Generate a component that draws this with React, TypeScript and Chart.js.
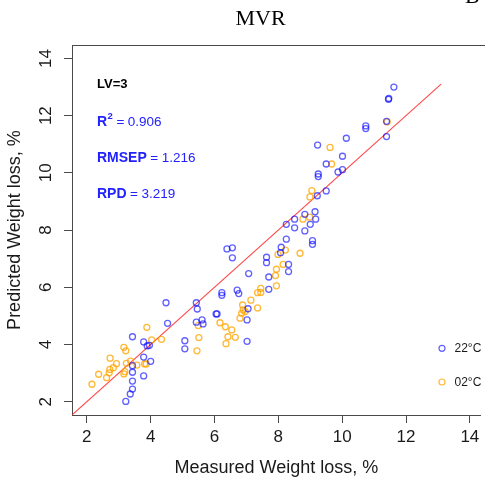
import React, { useEffect, useRef } from "react";
import { Chart, registerables } from "chart.js";

Chart.register(...registerables);

// ---------- data ----------
const xTicks = [2, 4, 6, 8, 10, 12, 14];
const yTicks = [2, 4, 6, 8, 10, 12, 14];

const seriesLabels = ["22°C", "02°C"];

const blueX = [
  6.39, 6.56, 6.56, 7.63, 7.63, 7.7, 7.7, 7.07, 6.23, 6.23, 6.71, 6.76, 5.43, 5.46, 4.48, 4.53,
  5.43, 5.61, 5.64, 6.05, 6.08, 7.05, 7.02, 7.02, 5.07, 5.07, 3.43, 3.78, 3.89, 3.96, 3.78, 4.0,
  3.43, 3.43, 3.78, 3.43, 3.43, 3.36, 3.22, 8.25, 9.07, 9.07, 8.09, 8.07, 8.32, 8.32, 11.61, 11.62,
  11.45, 11.46, 11.39, 11.39, 10.74, 10.74, 10.13, 9.23, 10.01, 9.5, 10.01, 9.87, 9.25, 9.25, 9.5,
  9.22, 9.15, 8.83, 9.17, 8.51, 8.25, 9.0, 8.51, 8.83,
];
const blueY = [
  7.34, 7.38, 7.03, 7.05, 6.86, 6.36, 5.93, 6.48, 5.81, 5.72, 5.9, 5.78, 5.46, 5.24, 5.46, 4.74,
  4.78, 4.86, 4.72, 5.07, 5.07, 5.25, 4.86, 4.11, 4.13, 3.85, 4.27, 4.09, 3.95, 3.97, 3.56, 3.41,
  3.26, 3.03, 2.9, 2.72, 2.44, 2.27, 2.01, 7.68, 7.63, 7.5, 7.4, 7.21, 6.8, 6.55, 14.56, 13.0,
  12.57, 12.6, 11.8, 11.27, 11.64, 11.55, 11.21, 10.97, 10.58, 10.31, 10.11, 10.03, 9.96, 9.87, 9.37,
  9.2, 8.64, 8.55, 8.38, 8.38, 8.2, 8.2, 8.08, 7.97,
];

const orangeX = [
  2.16, 2.37, 2.62, 2.73, 2.72, 2.83, 2.7, 2.93, 3.16, 3.22, 3.19, 3.16, 3.24, 3.37, 3.57, 3.81,
  3.86, 3.88, 4.03, 4.34, 5.49, 5.51, 5.45, 6.17, 6.34, 6.54, 6.42, 6.65, 6.36, 6.8, 6.88, 6.9,
  6.96, 6.85, 7.14, 7.35, 7.35, 7.45, 7.45, 7.91, 7.94, 7.94, 7.99, 8.22, 8.68, 8.15, 11.41, 9.62,
  9.67, 9.05, 8.99, 8.77, 8.98,
];
const orangeY = [
  2.61, 2.96, 2.84, 3.52, 3.13, 3.19, 3.01, 3.33, 3.9, 3.78, 3.05, 2.97, 3.34, 3.42, 3.28, 3.32,
  3.32, 4.6, 4.16, 4.18, 4.66, 4.24, 3.78, 4.76, 4.62, 4.51, 4.27, 4.25, 4.03, 4.92, 5.38, 5.21,
  5.15, 5.09, 5.55, 5.28, 5.81, 5.96, 5.82, 6.41, 6.63, 6.05, 7.15, 7.3, 7.19, 6.8, 11.78, 10.89,
  10.31, 9.38, 9.16, 8.38, 8.45,
];

const fitX = [1.5, 13.1];
const fitY = [1.5, 13.1];

const statNames = ["R", "RMSEP", "RPD"];
const statValues = ["0.906", "1.216", "3.219"];
const lvText = "LV=3";
const titleText = "MVR";
const xTitle = "Measured Weight loss, %";
const yTitle = "Predicted Weight loss, %";

// ---------- styles ----------
const SANS = "'Liberation Sans', Arial, sans-serif";
const SERIF = "'Liberation Serif', 'Times New Roman', serif";
const BLUE = "rgba(0,0,255,0.62)";
const ORANGE = "rgba(255,165,0,0.78)";
const RED = "rgba(255,40,40,0.85)";
const AXIS = "#4a4a4a";
const TEXT = "#1a1a1a";
const STAT_BLUE = "#2222ff";

const overlayPlugin = {
  id: "overlay",
  afterDraw(chart: any) {
    const { ctx, chartArea, scales } = chart;
    ctx.save();
    // top border of the box
    ctx.strokeStyle = AXIS;
    ctx.lineWidth = 1;
    ctx.beginPath();
    ctx.moveTo(chartArea.left, Math.round(chartArea.top) + 0.5);
    ctx.lineTo(chart.width, Math.round(chartArea.top) + 0.5);
    ctx.stroke();

    // rotated y tick labels
    ctx.fillStyle = TEXT;
    ctx.font = `17px ${SANS}`;
    ctx.textAlign = "center";
    ctx.textBaseline = "middle";
    yTicks.forEach((v) => {
      const y = scales.y.getPixelForValue(v);
      ctx.save();
      ctx.translate(46.7, y);
      ctx.rotate(-Math.PI / 2);
      ctx.fillText(String(v), 0, 0);
      ctx.restore();
    });

    // title
    ctx.font = `22px ${SERIF}`;
    ctx.textAlign = "center";
    ctx.textBaseline = "alphabetic";
    ctx.fillStyle = "#000";
    ctx.fillText(titleText, 260.5, 25);
    ctx.textAlign = "left";
    ctx.fillText("B", 465, 3);

    // stats text
    ctx.textAlign = "left";
    ctx.textBaseline = "alphabetic";
    ctx.fillStyle = "#000";
    ctx.font = `bold 13px ${SANS}`;
    ctx.fillText(lvText, 97, 87.5);
    const baselines = [125.8, 161.5, 197.8];
    statNames.forEach((name, i) => {
      let x = 97;
      const yb = baselines[i];
      ctx.fillStyle = STAT_BLUE;
      ctx.font = `bold 14px ${SANS}`;
      ctx.fillText(name, x, yb);
      x += ctx.measureText(name).width;
      if (i === 0) {
        ctx.font = `bold 9.5px ${SANS}`;
        ctx.fillText("2", x + 0.5, yb - 6.5);
        x += ctx.measureText("2").width + 0.5;
      }
      ctx.font = `13.5px ${SANS}`;
      x += 3.5;
      ctx.fillText("=", x, yb);
      x += ctx.measureText("=").width + 3.5;
      ctx.fillText(statValues[i], x, yb);
    });

    // legend
    const legendY = [348.3, 382];
    chart.data.datasets.slice(0, 2).forEach((ds: any, i: number) => {
      ctx.strokeStyle = ds.borderColor;
      ctx.lineWidth = 1.2;
      ctx.beginPath();
      ctx.arc(442, legendY[i], 3, 0, Math.PI * 2);
      ctx.stroke();
      ctx.fillStyle = TEXT;
      ctx.font = `12px ${SANS}`;
      ctx.textBaseline = "middle";
      ctx.fillText(ds.label, 454.5, legendY[i] + 0.5);
    });
    ctx.restore();
  },
};

export default function App() {
  const ref = useRef<HTMLCanvasElement | null>(null);
  useEffect(() => {
    if (!ref.current) return;
    const pts = (xs: number[], ys: number[]) => xs.map((x, i) => ({ x, y: ys[i] }));
    const chart = new Chart(ref.current, {
      type: "scatter",
      data: {
        datasets: [
          {
            label: seriesLabels[0],
            data: pts(blueX, blueY),
            borderColor: BLUE,
            backgroundColor: "rgba(0,0,0,0)",
            pointRadius: 3,
            pointHoverRadius: 3,
            pointBorderWidth: 1.3,
          },
          {
            label: seriesLabels[1],
            data: pts(orangeX, orangeY),
            borderColor: ORANGE,
            backgroundColor: "rgba(0,0,0,0)",
            pointRadius: 3,
            pointHoverRadius: 3,
            pointBorderWidth: 1.3,
          },
          {
            label: "fit",
            type: "line",
            data: pts(fitX, fitY),
            borderColor: RED,
            borderWidth: 1.1,
            pointRadius: 0,
            fill: false,
            showLine: true,
          } as any,
        ],
      },
      options: {
        responsive: false,
        animation: false,
        devicePixelRatio: 1,
        events: [],
        layout: { padding: { top: 45, left: 0, right: 0, bottom: 0 } },
        plugins: {
          legend: { display: false },
          tooltip: { enabled: false },
          title: { display: false },
        },
        scales: {
          x: {
            type: "linear",
            min: 1.535,
            max: 14.34,
            afterBuildTicks: (s: any) => {
              s.ticks = xTicks.map((v) => ({ value: v }));
            },
            afterFit: (s: any) => {
              s.height = 70;
            },
            grid: { drawOnChartArea: false, drawTicks: true, tickLength: 8, color: AXIS, lineWidth: 1 },
            border: { display: true, color: AXIS, width: 1 },
            ticks: {
              color: TEXT,
              font: { family: SANS, size: 17 },
              padding: 4,
              maxRotation: 0,
              autoSkip: false,
            },
            title: {
              display: true,
              text: xTitle,
              color: TEXT,
              font: { family: SANS, size: 18 },
              padding: { top: 0, bottom: 6 },
            },
          },
          y: {
            type: "linear",
            min: 1.535,
            max: 14.47,
            afterBuildTicks: (s: any) => {
              s.ticks = yTicks.map((v) => ({ value: v }));
            },
            afterFit: (s: any) => {
              s.width = 72;
            },
            grid: { drawOnChartArea: false, drawTicks: true, tickLength: 8, color: AXIS, lineWidth: 1 },
            border: { display: true, color: AXIS, width: 1 },
            ticks: {
              color: "rgba(0,0,0,0)",
              font: { family: SANS, size: 17 },
              padding: 4,
            },
            title: {
              display: true,
              text: yTitle,
              color: TEXT,
              font: { family: SANS, size: 18 },
              padding: { top: 4, bottom: 0 },
            },
          },
        },
      },
      plugins: [overlayPlugin],
    });
    return () => chart.destroy();
  }, []);

  return (
    <div style={{ position: "absolute", left: 0, top: 0, width: 485, height: 485, background: "#fff" }}>
      <canvas ref={ref} width={485} height={485} style={{ display: "block", width: 485, height: 485 }} />
    </div>
  );
}
